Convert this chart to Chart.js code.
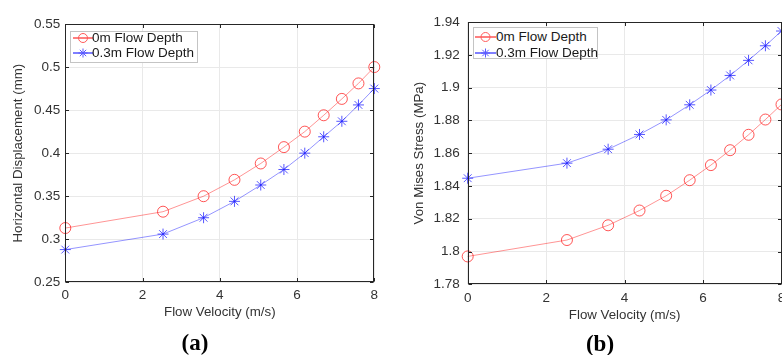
<!DOCTYPE html>
<html>
<head>
<meta charset="utf-8">
<script src="https://cdn.jsdelivr.net/npm/chart.js@4"></script>
<style>
  html, body { margin: 0; padding: 0; background: #fff; overflow: hidden; width: 782px; height: 355px; }
  #wrap { position: relative; width: 782px; height: 355px; overflow: hidden; }
  canvas { position: absolute; top: 0; }
  .legend { position: absolute; background: #fff; border: 1px solid #c4c4c4; box-sizing: border-box; }
  .row { position: absolute; left: 0; height: 16px; white-space: nowrap; }
  .row svg { position: absolute; top: 0; }
  .row span { position: absolute; top: 0; line-height: 16px; font-family: "Liberation Sans", Arial, sans-serif; font-size: 13.5px; color: #1a1a1a; }
  .cap { position: absolute; width: 80px; height: 28px; line-height: 28px; text-align: center; font-family: "Liberation Serif", "Times New Roman", Times, serif; font-weight: bold; font-size: 23px; color: #000; }
</style>
</head>
<body>
<div id="wrap">
  <canvas id="cA" width="390" height="330" style="left:0px"></canvas>
  <canvas id="cB" width="400" height="330" style="left:392px"></canvas>

  <div class="legend" style="left:70px;top:31px;width:128px;height:32px;">
    <div class="row" style="top:-2px;width:128px;">
      <svg width="24" height="16" style="left:1px"><line x1="1" y1="8" x2="21" y2="8" stroke="#ff0000" stroke-width="1"/><circle cx="11" cy="8" r="4.5" fill="none" stroke="#ff5a5a" stroke-width="1"/></svg>
      <span id="lgA0" style="left:21px"></span>
    </div>
    <div class="row" style="top:13px;width:128px;">
      <svg width="24" height="16" style="left:1px"><line x1="1" y1="8" x2="21" y2="8" stroke="#0000ff" stroke-width="1"/><g stroke="#5a5aff" stroke-width="1"><line x1="11" y1="3.5" x2="11" y2="12.5"/><line x1="6.5" y1="8" x2="15.5" y2="8"/><line x1="7.8" y1="4.8" x2="14.2" y2="11.2"/><line x1="7.8" y1="11.2" x2="14.2" y2="4.8"/></g></svg>
      <span id="lgA1" style="left:21px"></span>
    </div>
  </div>

  <div class="legend" style="left:473px;top:27px;width:125px;height:32px;">
    <div class="row" style="top:1px;width:125px;">
      <svg width="24" height="16" style="left:0px"><line x1="1" y1="8" x2="22" y2="8" stroke="#ff0000" stroke-width="1"/><circle cx="11.5" cy="8" r="4.5" fill="none" stroke="#ff5a5a" stroke-width="1"/></svg>
      <span id="lgB0" style="left:22px"></span>
    </div>
    <div class="row" style="top:16.5px;width:125px;">
      <svg width="24" height="16" style="left:0px"><line x1="1" y1="8" x2="22" y2="8" stroke="#0000ff" stroke-width="1"/><g stroke="#5a5aff" stroke-width="1"><line x1="11.5" y1="3.5" x2="11.5" y2="12.5"/><line x1="7" y1="8" x2="16" y2="8"/><line x1="8.3" y1="4.8" x2="14.7" y2="11.2"/><line x1="8.3" y1="11.2" x2="14.7" y2="4.8"/></g></svg>
      <span id="lgB1" style="left:22px"></span>
    </div>
  </div>

  <div class="cap" style="left:155px;top:329px;">(a)</div>
  <div class="cap" style="left:560px;top:330px;">(b)</div>
</div>

<script>
// ---------------- DATA ----------------
const velocity = [0, 2.53, 3.58, 4.38, 5.06, 5.66, 6.20, 6.69, 7.16, 7.59, 8.0];
const seriesNames = ['0m Flow Depth', '0.3m Flow Depth'];

const dispDepth0  = [0.313, 0.332, 0.350, 0.369, 0.388, 0.407, 0.425, 0.444, 0.463, 0.481, 0.500];
const dispDepth03 = [0.288, 0.306, 0.325, 0.344, 0.363, 0.381, 0.400, 0.419, 0.437, 0.456, 0.475];

const stressDepth0  = [1.797, 1.807, 1.816, 1.825, 1.834, 1.8435, 1.8527, 1.8618, 1.8712, 1.8805, 1.8897];
const stressDepth03 = [1.8447, 1.8539, 1.8624, 1.8714, 1.8803, 1.8895, 1.8985, 1.9074, 1.9166, 1.9255, 1.9345];

const xTicks  = [0, 2, 4, 6, 8];
const yTicksA = [0.25, 0.30, 0.35, 0.40, 0.45, 0.50, 0.55];
const yTicksB = [1.78, 1.80, 1.82, 1.84, 1.86, 1.88, 1.90, 1.92, 1.94];

const xTitle  = 'Flow Velocity (m/s)';
const yTitleA = 'Horizontal Displacement (mm)';
const yTitleB = 'Von Mises Stress (MPa)';

// ---------------- legend text ----------------
document.getElementById('lgA0').textContent = seriesNames[0];
document.getElementById('lgA1').textContent = seriesNames[1];
document.getElementById('lgB0').textContent = seriesNames[0];
document.getElementById('lgB1').textContent = seriesNames[1];

const TXT = '#333333';
const FRAME = '#262626';
const FONT = "'Liberation Sans', Arial, sans-serif";

const framePlugin = {
  id: 'frame',
  afterDraw(chart) {
    const {ctx, chartArea: a, scales: {x, y}} = chart;
    ctx.save();
    ctx.strokeStyle = FRAME;
    ctx.lineWidth = 1;
    const L = Math.round(a.left) + 0.5, R = Math.round(a.right) - 0.5;
    const T = Math.round(a.top) + 0.5, B = Math.round(a.bottom) - 0.5;
    ctx.strokeRect(L, T, R - L, B - T);
    const tl = 3.5;
    ctx.beginPath();
    x.ticks.forEach(t => {
      const px = Math.round(x.getPixelForValue(t.value)) + 0.5;
      ctx.moveTo(px, B); ctx.lineTo(px, B - tl);
      ctx.moveTo(px, T); ctx.lineTo(px, T + tl);
    });
    y.ticks.forEach(t => {
      const py = Math.round(y.getPixelForValue(t.value)) + 0.5;
      ctx.moveTo(L, py); ctx.lineTo(L + tl, py);
      ctx.moveTo(R, py); ctx.lineTo(R - tl, py);
    });
    ctx.stroke();
    ctx.restore();
  }
};

function fmt(v) { return String(Number(v.toFixed(2))); }

function makeChart(id, s0, s1, yTicks, yTitle, cfg) {
  return new Chart(document.getElementById(id), {
    type: 'line',
    data: {
      datasets: [
        {
          label: seriesNames[0],
          data: velocity.map((v, i) => ({x: v, y: s0[i]})),
          borderColor: 'rgba(255,0,0,0.42)',
          borderWidth: 1,
          pointStyle: 'circle',
          pointRadius: 5.5,
          pointBorderColor: 'rgba(255,30,30,0.75)',
          pointBackgroundColor: 'rgba(0,0,0,0)',
          pointBorderWidth: 1,
          tension: 0,
          clip: false
        },
        {
          label: seriesNames[1],
          data: velocity.map((v, i) => ({x: v, y: s1[i]})),
          borderColor: 'rgba(0,0,255,0.42)',
          borderWidth: 1,
          pointStyle: 'star',
          pointRadius: 5.5,
          pointBorderColor: 'rgba(30,30,255,0.75)',
          pointBackgroundColor: 'rgba(0,0,0,0)',
          pointBorderWidth: 1,
          tension: 0,
          clip: false
        }
      ]
    },
    options: {
      responsive: false,
      animation: false,
      devicePixelRatio: 1,
      events: [],
      layout: { padding: { left: 0, top: cfg.top, right: cfg.right, bottom: 0 } },
      plugins: { legend: { display: false }, tooltip: { enabled: false } },
      scales: {
        x: {
          type: 'linear',
          min: xTicks[0], max: xTicks[xTicks.length - 1],
          afterBuildTicks: s => { s.ticks = xTicks.map(v => ({value: v})); },
          afterFit: s => { s.height = cfg.xh; },
          grid: { color: '#e9e9e9', drawTicks: false },
          border: { display: false },
          ticks: { color: TXT, font: { family: FONT, size: 13.5 }, padding: cfg.xpad, maxRotation: 0, callback: v => fmt(v) },
          title: { display: true, text: xTitle, color: TXT, font: { family: FONT, size: 13.3 }, padding: { top: 0, bottom: cfg.xtp } }
        },
        y: {
          type: 'linear',
          min: yTicks[0], max: yTicks[yTicks.length - 1],
          afterBuildTicks: s => { s.ticks = yTicks.map(v => ({value: v})); },
          afterFit: s => { s.width = cfg.yw; },
          grid: { color: '#e9e9e9', drawTicks: false },
          border: { display: false },
          ticks: { color: TXT, font: { family: FONT, size: 13.5 }, padding: cfg.ypad, callback: v => fmt(v) },
          title: { display: true, text: yTitle, color: TXT, font: { family: FONT, size: 13.3 }, padding: { top: cfg.ytp, bottom: 0 } }
        }
      }
    },
    plugins: [framePlugin]
  });
}

makeChart('cA', dispDepth0, dispDepth03, yTicksA, yTitleA,
  { top: 24, right: 15.7, xh: 47.7, xpad: 5, xtp: 9.2, yw: 65.3, ypad: 5, ytp: 10 });
makeChart('cB', stressDepth0, stressDepth03, yTicksB, yTitleB,
  { top: 22, right: 10.5, xh: 45.7, xpad: 6, xtp: 6.5, yw: 75.7, ypad: 8, ytp: 19.5 });
</script>
</body>
</html>
